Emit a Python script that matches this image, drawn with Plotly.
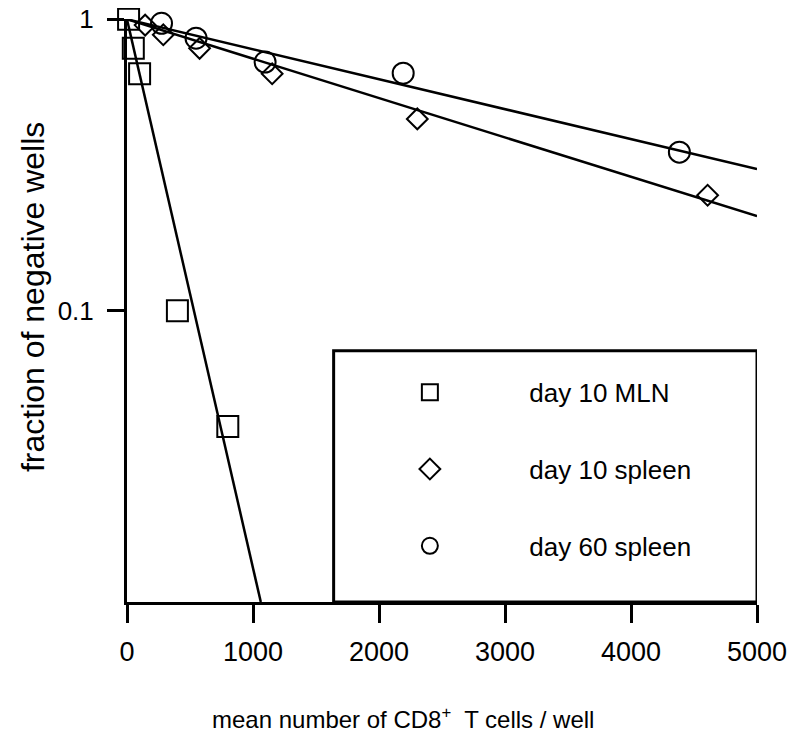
import plotly.graph_objects as go

# ---- data ----
mln_x = [12.5, 50, 100, 400, 800]
mln_y = [1.0, 0.795, 0.65, 0.1, 0.040]

d10_spleen_x = [144, 288, 576, 1152, 2304, 4608]
d10_spleen_y = [0.955, 0.885, 0.795, 0.65, 0.455, 0.249]

d60_spleen_x = [274, 548, 1096, 2192, 4384]
d60_spleen_y = [0.969, 0.861, 0.713, 0.653, 0.350]

# fitted lines (end points)
mln_fit_x = [0, 1062]
mln_fit_y = [1.0, 0.01]
d10_fit_x = [0, 5000]
d10_fit_y = [1.0, 0.211]
d60_fit_x = [0, 5000]
d60_fit_y = [1.0, 0.306]

x_tickvals = [0, 1000, 2000, 3000, 4000, 5000]
y_tickvals = [0.1, 1]
y_ticktext = ["0.1", "1"]

names = ["day 10 MLN", "day 10 spleen", "day 60 spleen"]
x_title = "mean number of CD8<sup>+</sup>  T cells / well"
y_title = "fraction of negative wells"

FONT = "Liberation Sans, Arial, sans-serif"
pad = "\u00a0" * 11

fig = go.Figure()

for fx, fy in [(mln_fit_x, mln_fit_y), (d10_fit_x, d10_fit_y), (d60_fit_x, d60_fit_y)]:
    fig.add_trace(go.Scatter(x=fx, y=fy, mode="lines", showlegend=False,
                             line=dict(color="black", width=2.5), hoverinfo="skip",
                             cliponaxis=True))

fig.add_trace(go.Scatter(x=mln_x, y=mln_y, mode="markers", name=pad + names[0],
                         legendgroup="a",
                         marker=dict(symbol="square-open", size=21, color="black",
                                     line=dict(width=2, color="black")),
                         cliponaxis=False))
fig.add_trace(go.Scatter(x=d10_spleen_x, y=d10_spleen_y, mode="markers", name=pad + names[1],
                         legendgroup="b",
                         marker=dict(symbol="diamond-open", size=16, color="black",
                                     line=dict(width=2, color="black")),
                         cliponaxis=False))
fig.add_trace(go.Scatter(x=d60_spleen_x, y=d60_spleen_y, mode="markers", name=pad + names[2],
                         legendgroup="c",
                         marker=dict(symbol="circle-open", size=21, color="black",
                                     line=dict(width=2, color="black")),
                         cliponaxis=False))

# legend frame
fig.add_shape(type="rect", xref="x", yref="paper", x0=1640, x1=5000, y0=0, y1=0.431,
              line=dict(color="black", width=3), fillcolor="white", layer="below")

# axis titles
fig.add_annotation(text=x_title, xref="paper", yref="paper", x=0.438, y=0,
                   yshift=-116, xanchor="center", yanchor="middle", showarrow=False,
                   font=dict(family=FONT, size=24, color="black"))
fig.add_annotation(text=y_title, xref="paper", yref="paper", x=0, y=0.523,
                   xshift=-94, xanchor="center", yanchor="middle", showarrow=False,
                   textangle=-90,
                   font=dict(family=FONT, size=32, color="black"))

fig.update_layout(
    width=800, height=740,
    margin=dict(l=119, r=51, t=11, b=146, autoexpand=False),
    paper_bgcolor="white", plot_bgcolor="white",
    font=dict(family=FONT, size=26, color="black"),
    showlegend=True,
    legend=dict(x=0.449, y=0.40, xanchor="left", yanchor="top",
                traceorder="grouped", tracegroupgap=40,
                bgcolor="rgba(0,0,0,0)", borderwidth=0,
                font=dict(family=FONT, size=26, color="black")),
    xaxis=dict(range=[0, 5000], tickvals=x_tickvals, showgrid=False, zeroline=False,
               automargin=False,
               showline=True, linecolor="black", linewidth=3,
               ticks="outside", ticklen=18, tickwidth=3, tickcolor="black",
               ticklabelstandoff=6,
               tickfont=dict(family=FONT, size=27)),
    yaxis=dict(type="log", range=[-2, 0.001], tickvals=y_tickvals, ticktext=y_ticktext,
               showgrid=False, zeroline=False, automargin=False,
               showline=True, linecolor="black", linewidth=3,
               ticks="outside", ticklen=17, tickwidth=3, tickcolor="black",
               ticklabelstandoff=8, ticklabeloverflow="allow",
               tickfont=dict(family=FONT, size=26)),
)

fig.write_html("out.html")
